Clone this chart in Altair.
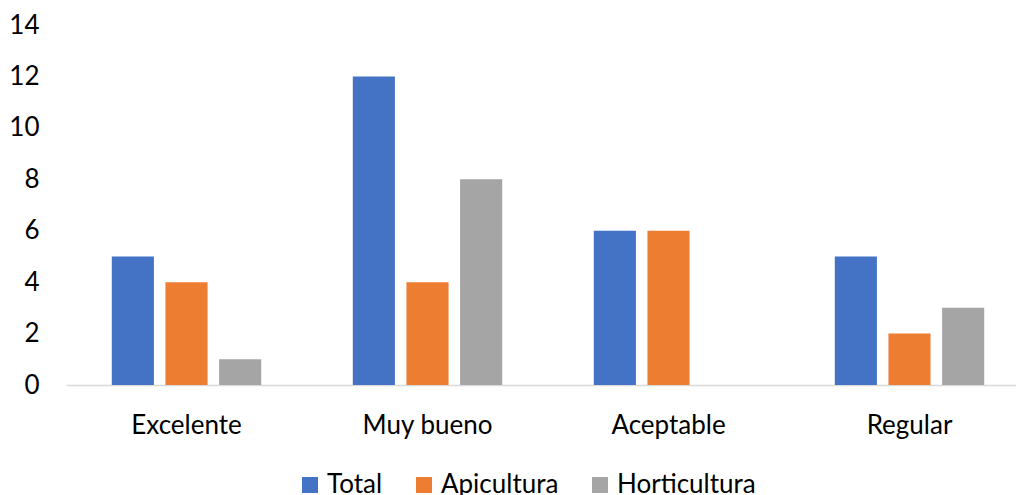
import altair as alt
import pandas as pd

# Rating categories and the three series shown for each
categories = ["Excelente", "Muy bueno", "Aceptable", "Regular"]
series = ["Total", "Apicultura", "Horticultura"]
total = [5, 12, 6, 5]
apicultura = [4, 4, 6, 2]
horticultura = [1, 8, 0, 3]
colors = ["#4472C4", "#ED7D31", "#A5A5A5"]
y_ticks = [0, 2, 4, 6, 8, 10, 12, 14]

rows = []
for name, values in zip(series, [total, apicultura, horticultura]):
    for cat, v in zip(categories, values):
        rows.append({"Categoria": cat, "Serie": name, "Valor": v})
df = pd.DataFrame(rows)

FONT = "Lato"
SIZE = 26

chart = (
    alt.Chart(df)
    .mark_bar()
    .encode(
        x=alt.X(
            "Categoria:N",
            sort=categories,
            # category bands run slightly past the right edge of the canvas
            scale=alt.Scale(paddingInner=0.38, paddingOuter=0.19, range=[0, 964]),
            axis=alt.Axis(
                title=None,
                labelAngle=0,
                ticks=False,
                domainColor="#D9D9D9",
                domainWidth=1.3,
                labelPadding=27,
                labelFontSize=SIZE,
                labelColor="#000000",
                labelFont=FONT,
            ),
        ),
        xOffset=alt.XOffset(
            "Serie:N",
            sort=series,
            scale=alt.Scale(paddingInner=0.215, paddingOuter=0),
        ),
        y=alt.Y(
            "Valor:Q",
            scale=alt.Scale(domain=[0, 14], nice=False),
            axis=alt.Axis(
                title=None,
                values=y_ticks,
                grid=False,
                domain=False,
                ticks=False,
                labelPadding=27,
                labelFontSize=SIZE,
                labelColor="#000000",
                labelFont=FONT,
            ),
        ),
        color=alt.Color(
            "Serie:N",
            sort=series,
            scale=alt.Scale(domain=series, range=colors),
            legend=alt.Legend(
                title=None,
                orient="none",
                direction="horizontal",
                legendX=231,
                legendY=447,
                symbolType="square",
                symbolSize=256,
                symbolStrokeWidth=0,
                symbolOpacity=1,
                labelFontSize=SIZE,
                labelFont=FONT,
                labelColor="#000000",
                labelOffset=4,
                columnPadding=28,
            ),
        ),
    )
    .properties(
        width=950,
        height=360,
        padding={"left": 66, "top": 25, "right": 0, "bottom": 110},
        autosize=alt.AutoSizeParams(type="none"),
        background="#FFFFFF",
    )
    .configure_view(stroke=None, strokeWidth=0)
)

chart.save("out.html", embed_options={"renderer": "svg", "actions": False})
